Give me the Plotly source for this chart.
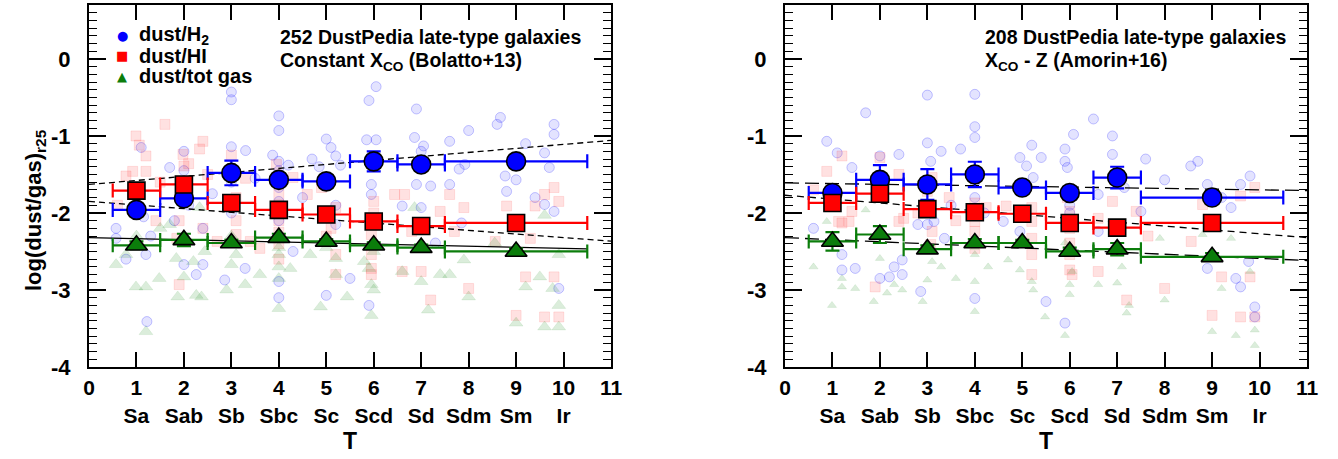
import numpy as np
import plotly.graph_objects as go

# ---------------- data ----------------
T_TICKS = list(range(0, 12))
TYPE_LABELS = ["", "Sa", "Sab", "Sb", "Sbc", "Sc", "Scd", "Sd", "Sdm", "Sm", "Ir", ""]
Y_TICKS = [-4, -3, -2, -1, 0]

T_BIN = [1, 2, 3, 4, 5, 6, 7, 9]
T_BIN_ERR = [0.5, 0.5, 0.5, 0.5, 0.5, 0.5, 0.5, 1.5]

# left panel (constant X_CO)
L_H2 = [-1.96, -1.81, -1.48, -1.57, -1.59, -1.33, -1.37, -1.33]
L_H2_ERR = [0.07, 0.06, 0.16, 0.07, 0.04, 0.13, 0.04, 0.08]
L_HI = [-1.71, -1.63, -1.87, -1.96, -2.02, -2.11, -2.17, -2.13]
L_HI_ERR = [0.05, 0.05, 0.05, 0.05, 0.05, 0.05, 0.05, 0.05]
L_TOT = [-2.42, -2.35, -2.39, -2.32, -2.37, -2.42, -2.45, -2.50]
L_TOT_ERR = [0.05, 0.08, 0.04, 0.05, 0.03, 0.04, 0.04, 0.04]

# right panel (X_CO - Z)
R_H2 = [-1.74, -1.57, -1.63, -1.50, -1.67, -1.74, -1.54, -1.80]
R_H2_ERR = [0.06, 0.19, 0.20, 0.165, 0.05, 0.08, 0.14, 0.05]
R_HI = [-1.87, -1.75, -1.95, -1.99, -2.01, -2.13, -2.19, -2.13]
R_HI_ERR = [0.06, 0.06, 0.05, 0.05, 0.05, 0.05, 0.05, 0.05]
R_TOT = [-2.37, -2.28, -2.47, -2.39, -2.39, -2.50, -2.47, -2.57]
R_TOT_ERR = [0.12, 0.11, 0.05, 0.05, 0.04, 0.05, 0.08, 0.05]

# linear fits: (intercept at T=0, slope, T end)
L_FIT_H2 = (-1.63, 0.052, 11.0)
L_FIT_HI = (-1.85, -0.047, 11.0)
L_FIT_TOT = (-2.32, -0.014, 10.5)
R_FIT_H2 = (-1.61, -0.009, 11.0)
R_FIT_HI = (-1.77, -0.050, 11.0)
R_FIT_TOT = (-2.32, -0.027, 11.0)

# individual galaxies (T, log ratio)
L_H2_PTS = [(0.57,-2.20),(0.57,-2.33),(0.78,-2.60),(1.0,-1.75),(1.1,-1.15),(1.15,-2.05),(1.2,-2.54),(1.22,-3.41),(1.3,-2.30),(1.7,-1.41),
            (1.8,-2.10),(2.0,-1.20),(2.0,-1.45),(2.0,-2.67),(2.1,-1.90),(2.26,-2.80),(2.4,-2.67),(2.4,-2.20),(2.6,-1.75),(2.86,-2.87),
            (3.0,-0.43),(3.0,-0.53),(3.0,-1.14),(3.0,-1.60),(3.0,-2.00),(3.29,-2.72),(3.3,-1.19),(3.5,-1.55),(3.87,-1.25),
            (4.0,-0.74),(4.0,-0.93),(4.0,-1.33),(4.0,-1.45),(4.0,-1.56),(4.0,-1.67),(4.0,-1.85),(4.0,-2.10),(4.0,-2.30),(4.0,-2.89),(4.0,-3.10),
            (4.2,-1.38),(4.3,-2.50),(4.5,-1.80),(4.7,-1.30),(4.85,-1.40),(5.0,-1.04),(5.1,-1.15),(5.2,-1.26),(5.3,-1.38),(5.0,-3.07),(5.2,-1.90),(5.2,-2.15),
            (6.05,-0.36),(5.9,-0.54),(6.9,-0.65),(8.67,-0.76),(8.0,-0.93),(9.8,-0.85),(9.8,-0.98),(5.85,-1.05),(6.05,-1.05),(6.86,-1.02),
            (7.05,-1.13),(7.0,-1.20),(7.6,-1.07),(9.2,-1.10),(9.6,-1.22),(9.7,-1.41),(7.8,-1.43),(7.92,-1.37),(8.77,-1.52),(9.0,-1.57),
            (7.2,-1.65),(7.6,-1.63),(6.9,-1.63),(8.8,-1.72),(9.4,-1.80),(9.6,-1.89),(9.8,-1.98),(9.9,-2.98),(5.95,-1.63),(5.95,-1.76),
            (6.6,-1.91),(5.9,-3.20),(5.5,-2.85),(7.85,-2.13),(7.3,-2.39),(7.0,-1.93),(8.6,-0.85)]
L_HI_PTS = [(1.6,-0.85),(0.99,-1.0),(1.06,-1.12),(1.2,-1.26),(0.78,-1.52),(0.92,-1.46),(1.2,-1.46),(1.98,-1.24),(2.0,-1.39),(2.1,-1.36),
            (2.4,-1.07),(2.33,-1.17),(0.92,-1.76),(1.41,-2.1),(1.9,-2.1),(1.85,-2.33),(2.4,-2.2),(2.7,-2.37),(1.9,-2.93),(3.1,-1.8),
            (3.1,-2.1),(3.1,-2.28),(3.4,-2.37),(3.6,-2.46),(4.0,-1.76),(4.0,-1.9),(4.0,-2.0),(4.0,-2.1),(4.0,-2.25),(3.95,-1.37),
            (4.3,-1.54),(4.6,-1.76),(4.9,-1.67),(5.2,-1.93),(5.2,-2.54),(5.2,-2.8),(5.1,-2.2),(6.44,-1.76),(6.65,-1.76),(7.6,-1.76),
            (7.9,-1.93),(7.4,-1.98),(8.8,-1.91),(9.4,-1.91),(9.6,-1.76),(9.8,-1.67),(9.9,-1.85),(5.95,-2.72),(5.95,-2.8),(5.95,-2.54),
            (6.6,-2.76),(7.0,-2.76),(7.2,-3.13),(8.0,-2.98),(9.2,-2.83),(9.8,-2.83),(9.0,-3.33),(9.6,-3.35),(9.9,-3.35),(8.56,-2.37),
            (9.3,-2.33),(7.7,-2.24),(6.8,-2.24),(5.95,-2.28),(0.6,-1.9),(1.5,-1.6),(2.5,-1.5),(3.0,-1.25),(3.3,-1.55),(4.0,-2.4),
            (4.0,-2.6),(5.0,-2.3),(6.0,-1.85),(6.0,-2.0),(6.0,-2.1)]
L_TOT_PTS = [(0.57,-2.67),(0.78,-2.54),(0.99,-2.96),(1.2,-2.96),(1.2,-3.54),(1.48,-2.85),(1.7,-2.15),(1.84,-2.59),(2.0,-2.83),(1.87,-3.09),
             (2.26,-3.07),(2.37,-3.09),(2.2,-2.63),(2.44,-2.5),(2.33,-1.93),(2.9,-3.0),(3.0,-2.67),(3.1,-2.54),(3.29,-2.93),(3.6,-2.8),
             (4.0,-2.54),(4.0,-2.7),(4.0,-2.85),(4.0,-3.24),(4.24,-2.72),(4.66,-2.54),(4.88,-3.22),(5.2,-2.59),(5.2,-2.8),(5.44,-3.09),
             (5.8,-2.63),(5.9,-2.72),(5.95,-2.93),(6.0,-3.0),(5.95,-3.33),(6.6,-2.76),(7.0,-2.89),(7.4,-2.8),(7.6,-2.8),(7.15,-3.26),
             (8.0,-3.09),(7.9,-2.61),(8.55,-2.39),(9.0,-3.43),(9.2,-2.96),(9.5,-2.83),(9.6,-3.48),(9.77,-2.98),(9.9,-3.2),(9.9,-3.48),
             (9.9,-2.54),(9.6,-2.03),(6.86,-1.93),(1.0,-2.3),(1.5,-2.2),(2.0,-2.4),(3.0,-2.3),(4.0,-2.35),(4.0,-2.45),(5.0,-2.45),(6.0,-2.5)]

R_H2_PTS = [(1.7,-0.7),(3.0,-0.47),(4.0,-0.46),(4.0,-0.88),(4.0,-1.02),(3.0,-1.09),(0.88,-1.07),(1.1,-1.22),(1.41,-1.41),(2.0,-1.26),
            (2.4,-1.24),(3.29,-1.2),(3.07,-1.33),(3.7,-1.17),(5.2,-1.12),(4.95,-1.28),(5.4,-1.28),(5.09,-1.39),(5.23,-1.54),(0.6,-2.2),
            (1.2,-2.54),(1.2,-2.74),(1.48,-2.72),(2.0,-2.85),(2.2,-2.83),(2.3,-2.7),(2.47,-2.61),(2.47,-2.8),(2.86,-3.02),(3.0,-2.15),
            (3.14,-2.11),(4.0,-3.11),(3.36,-2.33),(4.95,-2.24),(5.5,-3.15),(2.8,-2.15),(4.6,-2.11),(6.5,-0.78),(6.08,-0.98),(6.9,-1.0),
            (6.9,-1.24),(5.9,-1.17),(5.9,-1.33),(5.95,-1.41),(7.6,-1.3),(8.0,-1.57),(8.55,-1.39),(8.7,-1.33),(8.9,-1.63),(9.6,-1.63),
            (9.8,-1.52),(9.4,-1.93),(9.2,-1.8),(6.6,-1.76),(7.15,-1.67),(7.5,-1.98),(6.6,-2.24),(8.9,-2.72),(9.5,-2.85),(9.6,-2.96),
            (9.9,-3.22),(9.9,-3.35),(5.9,-3.43),(9.77,-2.63),(4.0,-1.6),(4.0,-1.8),(4.2,-2.0),(5.0,-1.7),(6.0,-1.9),(6.0,-2.0),(3.5,-1.9)]
R_HI_PTS = [(1.2,-1.26),(0.88,-1.46),(2.0,-1.28),(2.4,-1.5),(1.41,-1.98),(1.13,-2.11),(1.2,-2.13),(1.35,-2.11),(1.9,-2.96),(2.4,-2.11),
            (2.5,-2.07),(3.0,-1.72),(3.1,-1.54),(3.46,-1.8),(3.1,-2.24),(3.07,-2.41),(4.0,-2.11),(4.0,-2.24),(4.0,-2.46),(4.0,-1.87),
            (4.24,-1.93),(4.66,-1.91),(5.2,-1.93),(5.2,-2.11),(5.2,-2.33),(5.2,-2.54),(5.2,-2.8),(5.95,-1.8),(6.0,-1.98),(6.0,-2.2),
            (6.0,-2.39),(6.0,-2.54),(6.0,-2.74),(6.05,-2.8),(6.6,-2.07),(6.9,-1.85),(7.2,-3.13),(6.6,-2.76),(8.0,-2.98),(7.65,-2.3),
            (8.8,-1.89),(9.2,-2.83),(9.8,-2.83),(9.6,-1.78),(9.9,-1.67),(9.0,-3.33),(9.6,-3.35),(9.9,-3.35),(8.56,-2.37),(7.4,-1.98),
            (0.6,-1.7),(2.8,-2.0),(3.6,-2.1)]
R_TOT_PTS = [(0.6,-2.7),(0.88,-2.11),(1.2,-2.85),(1.2,-2.96),(0.99,-3.2),(1.48,-2.98),(1.7,-1.96),(1.87,-3.15),(2.0,-2.59),(2.15,-3.04),
             (2.3,-2.93),(2.47,-3.0),(2.9,-3.15),(3.0,-2.87),(3.1,-2.63),(3.29,-2.7),(3.6,-2.85),(4.0,-2.54),(4.0,-2.89),(4.0,-3.28),
             (4.28,-2.7),(4.7,-2.61),(4.95,-2.74),(5.2,-2.89),(5.23,-3.0),(5.48,-3.35),(5.9,-2.39),(6.0,-2.54),(6.0,-2.93),(6.0,-3.06),
             (6.05,-2.76),(5.9,-3.59),(6.6,-2.93),(7.0,-2.91),(7.1,-2.7),(7.25,-3.2),(7.2,-3.3),(8.0,-3.13),(7.9,-2.33),(8.8,-2.28),
             (9.0,-3.54),(9.2,-2.98),(9.5,-3.59),(9.8,-2.76),(9.9,-3.52),(9.9,-3.72),(9.4,-2.33),(3.0,-2.4),(4.0,-2.45)]

LEGEND_NAMES = ["dust/H<sub>2</sub>", "dust/HI", "dust/tot gas"]
LEGEND_GLYPHS = ["\u25CF", "\u25A0", "\u25B2"]
LEFT_TEXT = ["252 DustPedia late-type galaxies", "Constant X<sub>CO</sub> (Bolatto+13)"]
RIGHT_TEXT = ["208 DustPedia late-type galaxies", "X<sub>CO</sub> - Z (Amorin+16)"]

# ---------------- styling ----------------
FONT = "Liberation Sans"
W, H = 1338, 459
BLUE, RED, GREEN = "#0000ff", "#ff0000", "#0b7d0b"

fig = go.Figure()

def scatter_pts(pts, sym, fill, line, size, xa, ya):
    t, v = zip(*pts)
    fig.add_trace(go.Scatter(x=list(t), y=list(v), mode="markers", showlegend=False,
                             xaxis=xa, yaxis=ya, hoverinfo="skip",
                             marker=dict(symbol=sym, size=size, color=fill,
                                         line=dict(color=line, width=1))))

def fit_line(par, dash, xa, ya):
    t = np.array([0.0, par[2]])
    fig.add_trace(go.Scatter(x=t, y=par[0] + par[1] * t, mode="lines", showlegend=False,
                             xaxis=xa, yaxis=ya, hoverinfo="skip",
                             line=dict(color="black", width=1.3, dash=dash)))

def binned(vals, errs, sym, col, size, xa, ya):
    fig.add_trace(go.Scatter(x=T_BIN, y=vals, mode="markers", showlegend=False,
                             xaxis=xa, yaxis=ya,
                             error_x=dict(type="data", array=T_BIN_ERR, color=col, thickness=2.2, width=7),
                             error_y=dict(type="data", array=errs, color=col, thickness=2.2, width=7),
                             marker=dict(symbol=sym, size=size, color=col,
                                         line=dict(color="black", width=1.6))))

panels = [
    ("x", "y", L_H2_PTS, L_HI_PTS, L_TOT_PTS, 12, L_FIT_H2, L_FIT_HI, L_FIT_TOT,
     (L_H2, L_H2_ERR), (L_HI, L_HI_ERR), (L_TOT, L_TOT_ERR), ("6px,4px", "6px,4px", "solid")),
    ("x2", "y2", R_H2_PTS, R_HI_PTS, R_TOT_PTS, 8, R_FIT_H2, R_FIT_HI, R_FIT_TOT,
     (R_H2, R_H2_ERR), (R_HI, R_HI_ERR), (R_TOT, R_TOT_ERR), ("14px,6px", "7px,5px", "14px,6px")),
]
for (xa, ya, ph2, phi, ptot, tsz, fh2, fhi, ftot, bh2, bhi, btot, dashes) in panels:
    scatter_pts(ph2, "circle", "rgba(40,40,255,0.13)", "rgba(0,0,255,0.22)", 10, xa, ya)
    scatter_pts(phi, "square", "rgba(255,40,40,0.14)", "rgba(255,0,0,0.10)", 10, xa, ya)
    scatter_pts(ptot, "triangle-up", "rgba(0,130,0,0.14)", "rgba(0,130,0,0.08)", tsz, xa, ya)
    fit_line(fh2, dashes[0], xa, ya)
    fit_line(fhi, dashes[1], xa, ya)
    fit_line(ftot, dashes[2], xa, ya)
    binned(bh2[0], bh2[1], "circle", BLUE, 19, xa, ya)
    binned(bhi[0], bhi[1], "square", RED, 17, xa, ya)
    binned(btot[0], btot[1], "triangle-up", GREEN, 19, xa, ya)

# ---------------- axes ----------------
y0, y1 = 5, 367  # plot pixel top/bottom
ydom = [1 - y1 / H, 1 - y0 / H]
tick_text = [f"{t}<br>{lab}" if lab else f"{t}" for t, lab in zip(T_TICKS, TYPE_LABELS)]

xcommon = dict(range=[0, 11], tickvals=T_TICKS, ticktext=tick_text, ticks="inside", ticklen=15,
               tickwidth=1.5, tickcolor="black", showline=True, linewidth=2, linecolor="black",
               mirror="ticks", showgrid=False, zeroline=False, ticklabelstandoff=1, automargin=False,
               tickfont=dict(family=FONT, size=21, color="black", weight="bold"))
ycommon = dict(range=[-4, 0.7], tickvals=Y_TICKS, ticktext=[str(v) for v in Y_TICKS],
               ticks="inside", ticklen=17,
               tickwidth=1.5, tickcolor="black", showline=True, linewidth=2, linecolor="black",
               mirror="ticks", showgrid=False, zeroline=False, ticklabelstandoff=12, automargin=False,
               minor=dict(dtick=0.1, ticks="inside", ticklen=8, tickwidth=1.3, tickcolor="black", showgrid=False),
               tickfont=dict(family=FONT, size=22, color="black", weight="bold"))

fig.update_layout(
    width=W, height=H, margin=dict(l=0, r=0, t=0, b=0, autoexpand=False),
    paper_bgcolor="white", plot_bgcolor="white",
    xaxis=dict(domain=[89 / W, 611 / W], anchor="y", **xcommon),
    yaxis=dict(domain=ydom, anchor="x", **ycommon),
    xaxis2=dict(domain=[785 / W, 1307 / W], anchor="y2", **xcommon),
    yaxis2=dict(domain=ydom, anchor="x2", **ycommon),
    showlegend=False,
)

def ann(x, y, text, size, xanchor="left", yanchor="middle", color="black", angle=0, family=FONT):
    fig.add_annotation(xref="paper", yref="paper", x=x / W, y=1 - y / H, text=text,
                       xanchor=xanchor, yanchor=yanchor, showarrow=False, textangle=angle,
                       font=dict(family=family, size=size, color=color, weight="bold"))

# panel captions
ann(278, 37, LEFT_TEXT[0], 19.5)
ann(278, 61, LEFT_TEXT[1], 19.5)
ann(983, 37, RIGHT_TEXT[0], 19.5)
ann(983, 61, RIGHT_TEXT[1], 19.5)

# legend (left panel)
for i, (name, glyph, col) in enumerate(zip(LEGEND_NAMES, LEGEND_GLYPHS, [BLUE, RED, GREEN])):
    yy = 35 + 20.5 * i
    ann(122, yy, glyph, 13, xanchor="center", color=col, family="DejaVu Sans")
    ann(137, yy, name, 20)

# axis titles
ann(35, 210, "log(dust/gas)<sub>r25</sub>", 22, xanchor="center", angle=-90)
for xc in (350, 1046):
    ann(xc, 441, "T", 23, xanchor="center")

fig.write_html("out.html", config={"displayModeBar": False},
               post_script="document.body.style.margin='0';")
